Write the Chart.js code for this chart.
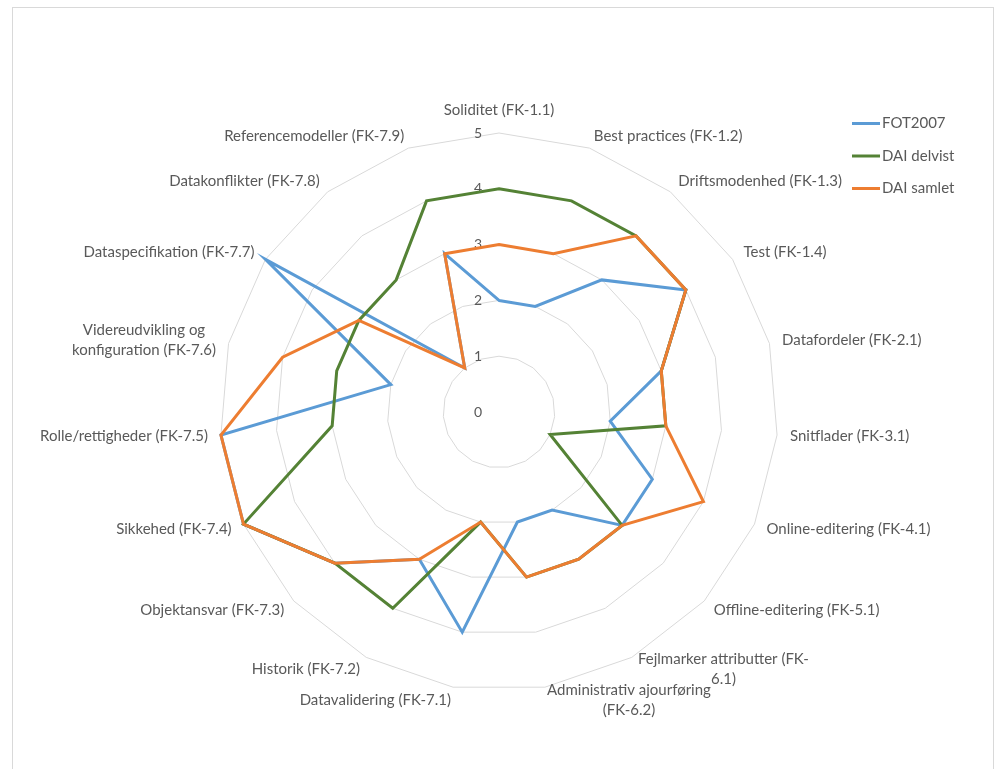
<!DOCTYPE html>
<html>
<head>
<meta charset="utf-8">
<title>Radar</title>
<script src="https://cdn.jsdelivr.net/npm/chart.js@4.4.0/dist/chart.umd.min.js"></script>
<style>
  html, body { margin: 0; padding: 0; background: #fff; overflow: hidden; }
  #frame { position: absolute; left: 12px; top: 7px; width: 980px; height: 780px; border: 1px solid #d9d9d9; }
  #wrap { position: absolute; left: 0; top: 0; width: 1005px; height: 769px; }
</style>
</head>
<body>
<div id="frame"></div>
<div id="wrap"><canvas id="radarChart"></canvas></div>
<script>
// categories, clockwise from the top
var categories = [
    'Soliditet (FK-1.1)',
    'Best practices (FK-1.2)',
    'Driftsmodenhed (FK-1.3)',
    'Test (FK-1.4)',
    'Datafordeler (FK-2.1)',
    'Snitflader (FK-3.1)',
    'Online-editering (FK-4.1)',
    'Offline-editering (FK-5.1)',
    ['Fejlmarker attributter (FK-', '6.1)'],
    ['Administrativ ajourføring', '(FK-6.2)'],
    'Datavalidering (FK-7.1)',
    'Historik (FK-7.2)',
    'Objektansvar (FK-7.3)',
    'Sikkehed (FK-7.4)',
    'Rolle/rettigheder (FK-7.5)',
    ['Videreudvikling og', 'konfiguration (FK-7.6)'],
    'Dataspecifikation (FK-7.7)',
    'Datakonflikter (FK-7.8)',
    'Referencemodeller (FK-7.9)'
];
var fot2007    = [2, 2, 3, 4, 3, 2, 3, 3, 2, 2, 4, 3, 4, 5, 5, 2, 5, 1, 3];
var daiDelvist = [4, 4, 4, 4, 3, 3, 1, 3, 3, 3, 2, 4, 4, 5, 3, 3, 3, 3, 4];
var daiSamlet  = [3, 3, 4, 4, 3, 3, 4, 3, 3, 3, 2, 3, 4, 5, 5, 4, 3, 1, 3];
var tickValues = [0, 1, 2, 3, 4, 5];

var textColor = '#595959';
var fontFamily = 'Lato, "Open Sans", sans-serif';
var labelGap = 13;
var labelLine = 20;

// axis numbers sit to the left of the vertical axis, 0 included
var tickText = {
    id: 'tickText',
    beforeDatasetsDraw: function(chart) {
        var r = chart.scales.r;
        var ctx = chart.ctx;
        ctx.save();
        ctx.font = '14px ' + fontFamily;
        ctx.fillStyle = textColor;
        ctx.textAlign = 'center';
        ctx.textBaseline = 'middle';
        for (var i = 0; i < tickValues.length; i++) {
            var d = r.getDistanceFromCenterForValue(tickValues[i]);
            ctx.fillText(String(tickValues[i]), r.xCenter - 21, r.yCenter - d);
        }
        ctx.restore();
    }
};

// category labels: boxes centred vertically on the spoke end, lines centred in the box
var pointText = {
    id: 'pointText',
    afterDraw: function(chart) {
        var r = chart.scales.r;
        var ctx = chart.ctx;
        ctx.save();
        ctx.font = '15px ' + fontFamily;
        ctx.fillStyle = textColor;
        ctx.textAlign = 'center';
        ctx.textBaseline = 'middle';
        for (var i = 0; i < chart.data.labels.length; i++) {
            var lines = [].concat(chart.data.labels[i]);
            var p = r.getPointPosition(i, r.drawingArea + labelGap);
            var a = r.getIndexAngle(i);
            var s = Math.sin(a), c = Math.cos(a);
            var w = 0;
            lines.forEach(function(l) { w = Math.max(w, ctx.measureText(l).width); });
            var h = lines.length * labelLine;
            var left = Math.abs(s) < 0.05 ? p.x - w / 2 : (s > 0 ? p.x : p.x - w);
            var top = c > 0.99 ? p.y - h : (c < -0.99 ? p.y : p.y - h / 2);
            for (var k = 0; k < lines.length; k++) {
                ctx.fillText(lines[k], left + w / 2, top + labelLine * (k + 0.5));
            }
        }
        ctx.restore();
    }
};

// legend in the top right corner, drawn over the plot like in the original
var sideLegend = {
    id: 'sideLegend',
    afterDraw: function(chart) {
        var ctx = chart.ctx;
        ctx.save();
        ctx.font = '15px ' + fontFamily;
        ctx.textAlign = 'left';
        ctx.textBaseline = 'middle';
        chart.data.datasets.forEach(function(ds, i) {
            var y = 123.5 + i * 32.5;
            ctx.strokeStyle = ds.borderColor;
            ctx.lineWidth = 3;
            ctx.beginPath();
            ctx.moveTo(852, y);
            ctx.lineTo(880, y);
            ctx.stroke();
            ctx.fillStyle = textColor;
            ctx.fillText(ds.label, 882, y);
        });
        ctx.restore();
    }
};

var ctx = document.getElementById('radarChart').getContext('2d');
var radar = new Chart(ctx, {
    type: 'radar',
    data: {
        labels: categories,
        datasets: [{
            label: 'FOT2007',
            data: fot2007,
            borderColor: '#5B9BD5',
            backgroundColor: '#5B9BD5',
            order: 3
        }, {
            label: 'DAI delvist',
            data: daiDelvist,
            borderColor: '#548235',
            backgroundColor: '#548235',
            order: 2
        }, {
            label: 'DAI samlet',
            data: daiSamlet,
            borderColor: '#ED7D31',
            backgroundColor: '#ED7D31',
            order: 1
        }]
    },
    options: {
        responsive: true,
        maintainAspectRatio: false,
        animation: false,
        elements: {
            line: { borderWidth: 3, fill: false, tension: 0 },
            point: { radius: 0, hoverRadius: 0 }
        },
        plugins: {
            legend: { display: false },
            tooltip: { enabled: false }
        },
        scales: {
            r: {
                min: 0,
                max: 5,
                ticks: { stepSize: 1, display: false },
                grid: { color: '#d9d9d9', lineWidth: 1 },
                angleLines: { display: false },
                pointLabels: { display: false },
                afterSetDimensions: function(scale) {
                    scale.xCenter = 499;
                    scale.yCenter = 412;
                    scale.drawingArea = 279;
                }
            }
        }
    },
    plugins: [tickText, pointText, sideLegend]
});
</script>
</body>
</html>
